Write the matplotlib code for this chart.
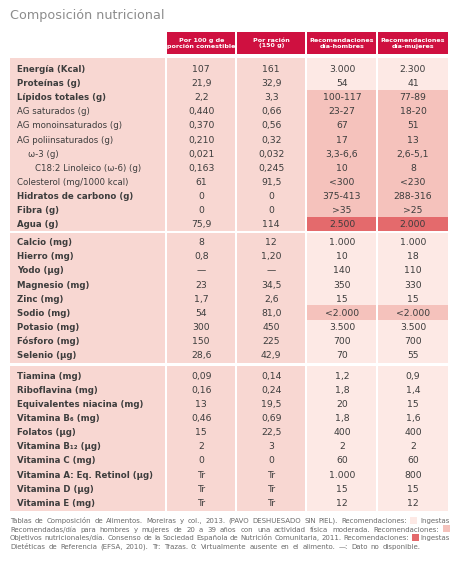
import matplotlib
matplotlib.use("Agg")
import matplotlib.pyplot as plt
from matplotlib.patches import Rectangle
from matplotlib import font_manager

# ---- datos de la tabla ----
titulo = "Composición nutricional"
cabeceras = ["Por 100 g de\nporción comestible", "Por ración\n(150 g)",
             "Recomendaciones\ndía-hombres", "Recomendaciones\ndía-mujeres"]

etiquetas = ["Energía (Kcal)", "Proteínas (g)", "Lípidos totales (g)", "AG saturados (g)",
             "AG monoinsaturados (g)", "AG poliinsaturados (g)", "ω-3 (g)",
             "C18:2 Linoleico (ω-6) (g)", "Colesterol (mg/1000 kcal)", "Hidratos de carbono (g)",
             "Fibra (g)", "Agua (g)",
             "Calcio (mg)", "Hierro (mg)", "Yodo (µg)", "Magnesio (mg)", "Zinc (mg)",
             "Sodio (mg)", "Potasio (mg)", "Fósforo (mg)", "Selenio (µg)",
             "Tiamina (mg)", "Riboflavina (mg)", "Equivalentes niacina (mg)", "Vitamina B₆ (mg)",
             "Folatos (µg)", "Vitamina B₁₂ (µg)", "Vitamina C (mg)", "Vitamina A: Eq. Retinol (µg)",
             "Vitamina D (µg)", "Vitamina E (mg)"]
por_100g = ["107", "21,9", "2,2", "0,440", "0,370", "0,210", "0,021", "0,163", "61", "0", "0", "75,9",
            "8", "0,8", "—", "23", "1,7", "54", "300", "150", "28,6",
            "0,09", "0,16", "13", "0,46", "15", "2", "0", "Tr", "Tr", "Tr"]
por_racion = ["161", "32,9", "3,3", "0,66", "0,56", "0,32", "0,032", "0,245", "91,5", "0", "0", "114",
              "12", "1,20", "—", "34,5", "2,6", "81,0", "450", "225", "42,9",
              "0,14", "0,24", "19,5", "0,69", "22,5", "3", "0", "Tr", "Tr", "Tr"]
rec_hombres = ["3.000", "54", "100-117", "23-27", "67", "17", "3,3-6,6", "10", "<300", "375-413", ">35", "2.500",
               "1.000", "10", "140", "350", "15", "<2.000", "3.500", "700", "70",
               "1,2", "1,8", "20", "1,8", "400", "2", "60", "1.000", "15", "12"]
rec_mujeres = ["2.300", "41", "77-89", "18-20", "51", "13", "2,6-5,1", "8", "<230", "288-316", ">25", "2.000",
               "1.000", "18", "110", "330", "15", "<2.000", "3.500", "700", "55",
               "0,9", "1,4", "15", "1,6", "400", "2", "60", "800", "15", "12"]
# fuente de la recomendación: IR = ingestas recomendadas, ON = objetivos nutricionales, EFSA
fuente_rec = ["IR", "IR"] + ["ON"] * 9 + ["EFSA"] + \
             ["IR"] * 5 + ["ON"] + ["IR"] * 3 + ["IR"] * 10
filas_seccion = [12, 9, 10]
negrita = [True, True, True, False, False, False, False, False, False, True, True, True] + [True] * 19
sangria = [0] * 6 + [11, 18] + [0] * 23

nota = [
    "Tablas de Composición de Alimentos. Moreiras y col., 2013. (PAVO DESHUESADO SIN PIEL). Recomendaciones: [IR] Ingestas",
    "Recomendadas/día para hombres y mujeres de 20 a 39 años con una actividad física moderada. Recomendaciones: [ON]",
    "Objetivos nutricionales/día. Consenso de la Sociedad Española de Nutrición Comunitaria, 2011. Recomendaciones: [EFSA] Ingestas",
    "Dietéticas de Referencia (EFSA, 2010). Tr: Trazas. 0: Virtualmente ausente en el alimento. —: Dato no disponible.",
]

# ---- estilo ----
nombres = {f.name for f in font_manager.fontManager.ttflist}
estrecha = "Liberation Sans Narrow" in nombres
fuente = ["Liberation Sans Narrow", "DejaVu Sans"] if estrecha else ["DejaVu Sans"]

c_cab = "#cf1040"
c_fondo = "#f8d7d2"
colores_rec = {"IR": "#fde9e5", "ON": "#f5c2bc", "EFSA": "#e46a6c"}
c_texto = "#3d3d3d"

fig = plt.figure(figsize=(4.6, 5.64), dpi=100)
ax = fig.add_axes([0, 0, 1, 1])
ax.set_xlim(0, 460)
ax.set_ylim(564, 0)
ax.axis("off")

ax.text(10, 15, titulo, color="#8c8c8c", fontsize=9.2, va="center", ha="left", family="DejaVu Sans")

# columnas (x0, x1)
col_lab = (10, 165.5)
cols = [(167, 235.5), (237, 305.5), (307.5, 376.5), (378, 448)]
valores = [por_100g, por_racion, rec_hombres, rec_mujeres]
tam_lab = 7.6 if estrecha else 6.2
tam_val = 8.0 if estrecha else 6.7

for (x0, x1), cab in zip(cols, cabeceras):
    ax.add_patch(Rectangle((x0, 32), x1 - x0, 22, color=c_cab, lw=0))
    ax.text((x0 + x1) / 2, 43.3, cab, color="white", fontsize=5.8 if estrecha else 4.6, weight="bold",
            ha="center", va="center", linespacing=1.1, family=fuente)

row_h = 14.15
secciones = [(57.5, 61.2, 231.0), (233.3, 234.6, 363.2), (365.8, 368.0, 510.5)]
i = 0
for n, (top, y_first, bottom) in zip(filas_seccion, secciones):
    ax.add_patch(Rectangle((col_lab[0], top), col_lab[1] - col_lab[0], bottom - top, color=c_fondo, lw=0))
    for x0, x1 in cols[:2]:
        ax.add_patch(Rectangle((x0, top), x1 - x0, bottom - top, color=c_fondo, lw=0))
    for k in range(n):
        y0 = y_first + k * row_h
        y1 = y0 + row_h
        yc = (y0 + y1) / 2
        r0 = top if k == 0 else y0
        r1 = bottom if k == n - 1 else y1
        for x0, x1 in cols[2:]:
            ax.add_patch(Rectangle((x0, r0), x1 - x0, r1 - r0, color=colores_rec[fuente_rec[i]], lw=0))
        ax.text(17 + sangria[i], yc, etiquetas[i], fontsize=tam_lab, color=c_texto, va="center_baseline",
                ha="left", weight="bold" if negrita[i] else "normal", family=fuente)
        for (x0, x1), vals in zip(cols, valores):
            ax.text((x0 + x1) / 2, yc, vals[i], fontsize=tam_val, color=c_texto, va="center_baseline",
                    ha="center", family=fuente)
        i += 1

# nota al pie, justificada
renderer = fig.canvas.get_renderer()
tam_nota = 5.8 if estrecha else 5.0
caja = 7.0
for j, linea in enumerate(nota):
    y = 523 + j * 8.6
    palabras = linea.split(" ")
    objetos = []
    anchos = []
    for p in palabras:
        if p.startswith("[") and p.endswith("]"):
            objetos.append(p[1:-1])
            anchos.append(caja)
        else:
            t = ax.text(0, y, p, fontsize=tam_nota, color="#6a6a6a", va="baseline", ha="left", family=fuente)
            objetos.append(t)
            anchos.append(t.get_window_extent(renderer).width)
    if j < len(nota) - 1:
        hueco = max((450 - 10 - sum(anchos)) / (len(palabras) - 1), 1.5)
    else:
        hueco = 3.2
    x = 10
    for o, w in zip(objetos, anchos):
        if isinstance(o, str):
            ax.add_patch(Rectangle((x, y - caja + 0.5), caja, caja, color=colores_rec[o], lw=0))
        else:
            o.set_x(x)
        x += w + hueco

fig.savefig("out.png", dpi=100)
